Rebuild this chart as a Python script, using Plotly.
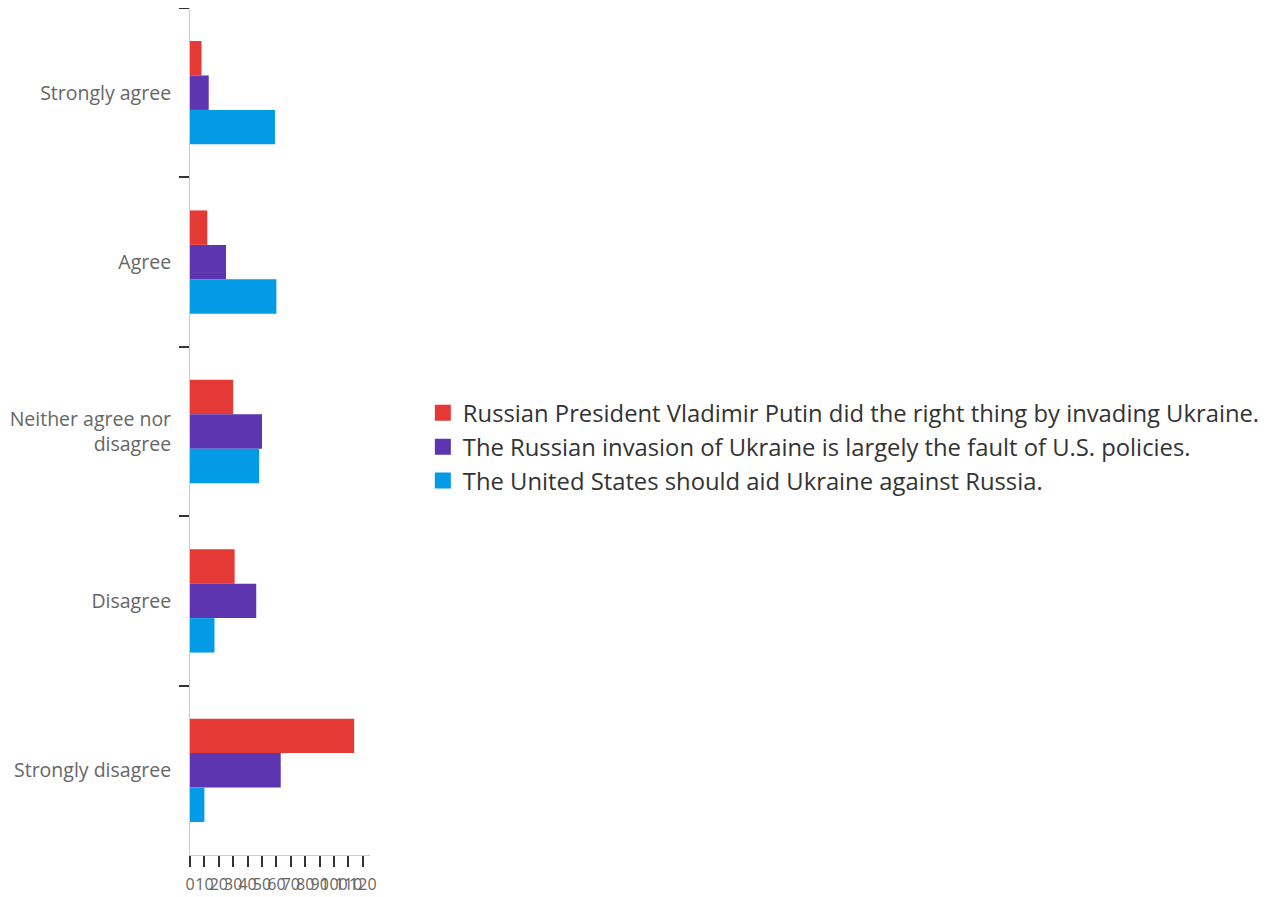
import plotly.graph_objects as go

categories = ["Strongly agree", "Agree", "Neither agree nor<br>disagree", "Disagree", "Strongly disagree"]
series_names = [
    "Russian President Vladimir Putin did the right thing by invading Ukraine.",
    "The Russian invasion of Ukraine is largely the fault of U.S. policies.",
    "The United States should aid Ukraine against Russia.",
]
putin_right = [8, 12, 30, 31, 114]
us_fault = [13, 25, 50, 46, 63]
us_aid = [59, 60, 48, 17, 10]
colors = ["#e53935", "#5e35b1", "#039be5"]
x_ticks = list(range(0, 130, 10))

fig = go.Figure()
for name, vals, col in zip(series_names, [putin_right, us_fault, us_aid], colors):
    fig.add_trace(go.Bar(
        y=categories, x=vals, name=name, orientation="h",
        marker=dict(color=col, line=dict(width=0)),
        showlegend=False, legendgroup=name,
    ))
# legend entries with larger square symbols
for name, col in zip(series_names, colors):
    fig.add_trace(go.Scatter(
        x=[None], y=[None], mode="markers", name=name, legendgroup=name,
        marker=dict(symbol="square", size=19, color=col),
        showlegend=True,
    ))

fig.update_layout(
    width=1270, height=897,
    margin=dict(l=182, r=10, t=0, b=50, autoexpand=False),
    paper_bgcolor="white", plot_bgcolor="white",
    barmode="group", bargap=0.39, bargroupgap=0,
    font=dict(family="Open Sans", color="#333"),
    legend=dict(
        x=0.216, xanchor="left", y=0.482, yanchor="middle",
        font=dict(size=23.8, color="#333"),
        traceorder="normal", itemsizing="trace", tracegroupgap=4,
    ),
    xaxis=dict(
        domain=[0, 0.167], range=[0, 125],
        tickmode="array", tickvals=x_ticks, tickangle=0,
        ticks="outside", ticklen=11, tickcolor="#333", tickwidth=2,
        showline=True, linecolor="#ccc", linewidth=1,
        showgrid=False, zeroline=False, automargin=False,
        ticklabelstandoff=4,
        tickfont=dict(size=16, color="#666"),
    ),
    yaxis=dict(
        autorange="reversed",
        tickson="boundaries",
        ticks="outside", ticklen=10, tickcolor="#333", tickwidth=2,
        showline=True, linecolor="#ccc", linewidth=1,
        showgrid=False, automargin=False,
        ticklabelstandoff=14,
        tickfont=dict(size=19.5, color="#666"),
    ),
)

fig.write_html("out.html")
